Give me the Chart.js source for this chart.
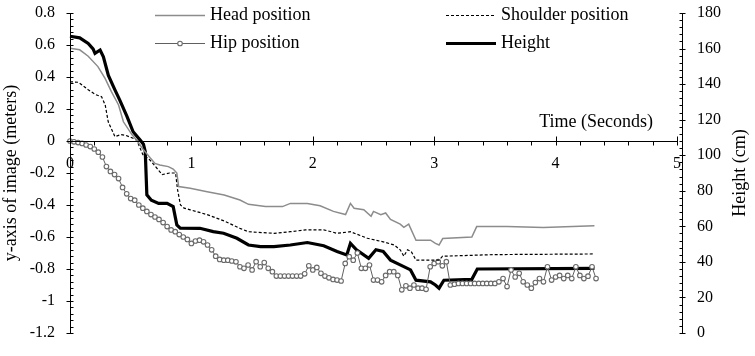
<!DOCTYPE html>
<html>
<head>
<meta charset="utf-8">
<script src="https://cdn.jsdelivr.net/npm/chart.js@4.4.0/dist/chart.umd.min.js"></script>
<style>
  body { margin: 0; background: #fff; }
</style>
</head>
<body>
<canvas id="chart" width="755" height="356"></canvas>
<script>
// Hip samples (one per video frame)
const frameTime = [
  0, 0.033, 0.067, 0.1, 0.133, 0.167, 0.2, 0.233, 0.267, 0.3,
  0.333, 0.367, 0.4, 0.433, 0.467, 0.5, 0.533, 0.567, 0.6, 0.633,
  0.667, 0.7, 0.733, 0.767, 0.8, 0.833, 0.867, 0.9, 0.933, 0.967,
  1, 1.033, 1.067, 1.1, 1.133, 1.167, 1.2, 1.233, 1.267, 1.3,
  1.333, 1.367, 1.4, 1.433, 1.467, 1.5, 1.533, 1.567, 1.6, 1.633,
  1.667, 1.7, 1.733, 1.767, 1.8, 1.833, 1.867, 1.9, 1.933, 1.967,
  2, 2.033, 2.067, 2.1, 2.133, 2.167, 2.2, 2.233, 2.267, 2.3,
  2.333, 2.367, 2.4, 2.433, 2.467, 2.5, 2.533, 2.567, 2.6, 2.633,
  2.667, 2.7, 2.733, 2.767, 2.8, 2.833, 2.867, 2.9, 2.933, 2.967,
  3, 3.033, 3.067, 3.1, 3.133, 3.167, 3.2, 3.233, 3.267, 3.3,
  3.333, 3.367, 3.4, 3.433, 3.467, 3.5, 3.533, 3.567, 3.6, 3.633,
  3.667, 3.7, 3.733, 3.767, 3.8, 3.833, 3.867, 3.9, 3.933, 3.967,
  4, 4.033, 4.067, 4.1, 4.133, 4.167, 4.2, 4.233, 4.267, 4.3,
  4.333
];
const hipPos = [
  0, -0.005, -0.01, -0.015, -0.025, -0.035, -0.05, -0.07, -0.1, -0.16,
  -0.19, -0.21, -0.235, -0.29, -0.33, -0.36, -0.37, -0.4, -0.42, -0.44,
  -0.46, -0.475, -0.49, -0.51, -0.535, -0.556, -0.567, -0.585, -0.6, -0.615,
  -0.64, -0.625, -0.62, -0.63, -0.65, -0.68, -0.72, -0.74, -0.745, -0.745,
  -0.75, -0.755, -0.786, -0.796, -0.775, -0.806, -0.754, -0.786, -0.76, -0.796,
  -0.817, -0.844, -0.844, -0.844, -0.844, -0.844, -0.844, -0.844, -0.83, -0.78,
  -0.806, -0.79, -0.827, -0.844, -0.855, -0.865, -0.869, -0.875, -0.765, -0.723,
  -0.745, -0.7, -0.796, -0.796, -0.775, -0.869, -0.869, -0.88, -0.84, -0.817,
  -0.817, -0.84, -0.93, -0.905, -0.92, -0.9, -0.92, -0.92, -0.927, -0.786,
  -0.765, -0.754, -0.78, -0.754, -0.9, -0.895, -0.89, -0.89, -0.89, -0.89,
  -0.89, -0.89, -0.89, -0.89, -0.89, -0.89, -0.88, -0.86, -0.91, -0.806,
  -0.85, -0.827, -0.88, -0.9, -0.92, -0.885, -0.86, -0.88, -0.786, -0.869,
  -0.85, -0.84, -0.86, -0.84, -0.86, -0.786, -0.84, -0.86, -0.845, -0.786,
  -0.86
];

// Head position (m)
const headTime = [0, 0.08, 0.15, 0.23, 0.29, 0.34, 0.4, 0.44, 0.51, 0.55, 0.6, 0.66, 0.7, 0.74, 0.81, 0.85, 0.88, 0.895, 0.99, 1.13, 1.27, 1.4, 1.47, 1.61, 1.75, 1.815, 1.955, 2.06, 2.17, 2.27, 2.31, 2.34, 2.42, 2.48, 2.5, 2.56, 2.6, 2.64, 2.72, 2.75, 2.79, 2.85, 2.97, 3.01, 3.04, 3.07, 3.31, 3.35, 3.6, 3.9, 4.32];
const headPos = [0.58, 0.57, 0.53, 0.465, 0.39, 0.31, 0.225, 0.12, 0.04, 0.005, -0.05, -0.105, -0.14, -0.15, -0.16, -0.175, -0.2, -0.285, -0.296, -0.317, -0.337, -0.369, -0.396, -0.41, -0.41, -0.39, -0.39, -0.405, -0.44, -0.46, -0.39, -0.42, -0.43, -0.47, -0.44, -0.46, -0.45, -0.49, -0.52, -0.54, -0.52, -0.62, -0.62, -0.64, -0.65, -0.61, -0.6, -0.535, -0.535, -0.54, -0.53];

// Shoulder position (m)
const shoulderTime = [0, 0.07, 0.15, 0.21, 0.26, 0.29, 0.315, 0.37, 0.42, 0.46, 0.51, 0.55, 0.6, 0.66, 0.76, 0.82, 0.87, 0.885, 0.91, 0.94, 0.99, 1.13, 1.27, 1.4, 1.47, 1.68, 1.815, 1.94, 2.09, 2.2, 2.31, 2.45, 2.52, 2.58, 2.67, 2.72, 2.75, 2.78, 2.81, 2.85, 3.04, 3.07, 3.5, 4.32];
const shoulderPos = [0.37, 0.367, 0.32, 0.29, 0.277, 0.225, 0.12, 0.027, 0.04, 0.035, 0.02, 0.005, -0.085, -0.12, -0.21, -0.2, -0.2, -0.3, -0.4, -0.42, -0.43, -0.46, -0.5, -0.546, -0.567, -0.577, -0.567, -0.556, -0.555, -0.577, -0.567, -0.608, -0.62, -0.63, -0.65, -0.68, -0.72, -0.68, -0.69, -0.744, -0.744, -0.72, -0.71, -0.706];

// Height (cm), right axis
const heightTime = [0, 0.08, 0.15, 0.19, 0.206, 0.248, 0.275, 0.316, 0.37, 0.41, 0.47, 0.52, 0.578, 0.605, 0.62, 0.633, 0.67, 0.73, 0.8, 0.85, 0.88, 0.908, 1.07, 1.18, 1.265, 1.375, 1.47, 1.57, 1.68, 1.815, 1.955, 2.09, 2.2, 2.28, 2.31, 2.36, 2.46, 2.52, 2.58, 2.64, 2.72, 2.805, 2.85, 2.97, 3.01, 3.04, 3.08, 3.31, 3.355, 4.32];
const heightCm = [166.9, 166, 162.9, 159.8, 157.3, 159.2, 155.4, 144.9, 136.8, 131, 121.7, 113.2, 108.5, 106.2, 102, 77.7, 74.7, 72.9, 72.9, 71.1, 60.8, 59, 58.9, 57, 56.1, 53.3, 49.5, 48.6, 48.6, 49.5, 50.9, 49.1, 45.9, 43.9, 50.4, 46.8, 42, 46.8, 45.9, 41, 38.3, 35.5, 29.7, 28.8, 27, 25.2, 29.7, 30.2, 36, 36.4];

const seriesLabels = ["Head position", "Shoulder position", "Hip position", "Height"];

const pairs = (xs, ys) => xs.map((t, i) => ({ x: t, y: ys[i] }));
const FONT = '"Liberation Serif", "Times New Roman", serif';

// fixed axis box sizes, no extra label padding in the layout
const fixWidth = (w) => (s) => {
    s.width = w;
    s.paddingTop = 0;
    s.paddingBottom = 0;
};

// axes drawn Excel-style: crossing majors, small minors
const axisDecor = {
    id: "axisDecor",
    afterDraw(chart) {
        const { ctx, chartArea: a, scales } = chart;
        const { x, y, y2 } = scales;
        ctx.save();
        ctx.strokeStyle = "#000";
        ctx.lineWidth = 1;
        const y0 = Math.round(y.getPixelForValue(0)) + 0.5;
        const xl = Math.round(a.left) + 0.5;
        const xr = Math.round(a.right) + 5.5;
        ctx.beginPath();
        ctx.moveTo(a.left, y0); ctx.lineTo(a.right + 1, y0);
        ctx.moveTo(xl, a.top); ctx.lineTo(xl, a.bottom);
        ctx.moveTo(xr, a.top); ctx.lineTo(xr, a.bottom);
        for (let i = 0; i <= 25; i++) {
            const px = Math.round(x.getPixelForValue(i * 0.2)) + 0.5;
            ctx.moveTo(px, i % 5 === 0 ? y0 - 5 : y0);
            ctx.lineTo(px, y0 + 4);
        }
        for (let i = 0; i <= 50; i++) {
            const py = Math.round(y.getPixelForValue(-1.2 + i * 0.04)) + 0.5;
            ctx.moveTo(i % 5 === 0 ? xl - 4 : xl, py);
            ctx.lineTo(xl + 3, py);
        }
        for (let i = 0; i <= 45; i++) {
            const py = Math.round(y2.getPixelForValue(i * 4)) + 0.5;
            ctx.moveTo(xr - 3, py);
            ctx.lineTo(i % 5 === 0 ? xr + 3 : xr, py);
        }
        ctx.stroke();

        // legend, two columns inside the plot
        const spots = [[155, 15], [446, 15], [155, 43], [446, 43]];
        ctx.font = "18px " + FONT;
        ctx.fillStyle = "#000";
        ctx.textBaseline = "alphabetic";
        ctx.textAlign = "left";
        chart.data.datasets.forEach((ds, i) => {
            const [lx, ly] = spots[i];
            ctx.beginPath();
            ctx.strokeStyle = ds.borderColor;
            ctx.lineWidth = ds.borderWidth;
            ctx.setLineDash(ds.borderDash || []);
            ctx.moveTo(lx, ly + 0.5);
            ctx.lineTo(lx + 50, ly + 0.5);
            ctx.stroke();
            ctx.setLineDash([]);
            if (ds.pointRadius) {
                ctx.beginPath();
                ctx.arc(lx + 25, ly + 0.5, ds.pointRadius, 0, Math.PI * 2);
                ctx.fillStyle = ds.pointBackgroundColor;
                ctx.fill();
                ctx.lineWidth = ds.pointBorderWidth;
                ctx.strokeStyle = ds.pointBorderColor;
                ctx.stroke();
            }
            ctx.fillStyle = "#000";
            ctx.fillText(ds.label, lx + 55, ly + 5);
        });

        // x title sits above the axis, right side
        ctx.textAlign = "right";
        ctx.fillText("Time (Seconds)", a.right - 24, y0 - 15);

        // right title reads bottom-to-top
        ctx.translate(740, (a.top + a.bottom) / 2);
        ctx.rotate(-Math.PI / 2);
        ctx.textAlign = "center";
        ctx.textBaseline = "middle";
        ctx.fillText("Height (cm)", 0, 0);
        ctx.restore();
    },
};

const ctx = document.getElementById("chart").getContext("2d");
new Chart(ctx, {
    type: "line",
    data: {
        datasets: [
            {
                label: seriesLabels[0],
                data: pairs(headTime, headPos),
                borderColor: "#8c8c8c",
                borderWidth: 1.5,
                pointRadius: 0,
                yAxisID: "y",
            },
            {
                label: seriesLabels[1],
                data: pairs(shoulderTime, shoulderPos),
                borderColor: "#000",
                borderWidth: 1.2,
                borderDash: [3, 2],
                pointRadius: 0,
                yAxisID: "y",
            },
            {
                label: seriesLabels[2],
                data: pairs(frameTime, hipPos),
                borderColor: "#606060",
                borderWidth: 1,
                pointRadius: 2.3,
                pointBorderWidth: 1.1,
                pointBorderColor: "#6a6a6a",
                pointBackgroundColor: "#fff",
                yAxisID: "y",
            },
            {
                label: seriesLabels[3],
                data: pairs(heightTime, heightCm),
                borderColor: "#000",
                borderWidth: 3.2,
                pointRadius: 0,
                yAxisID: "y2",
            },
        ],
    },
    options: {
        responsive: false,
        devicePixelRatio: 1,
        animation: false,
        clip: false,
        layout: { padding: { left: 0, right: 0, top: 13, bottom: 23 } },
        elements: { line: { tension: 0 } },
        plugins: { legend: { display: false }, tooltip: { enabled: false } },
        scales: {
            x: {
                type: "linear",
                min: 0,
                max: 5,
                position: { y: 0 },
                afterFit: (s) => { s.height = 0; },
                grid: { display: false, drawTicks: false },
                border: { display: false },
                ticks: {
                    stepSize: 1,
                    padding: 13,
                    color: "#000",
                    font: { family: FONT, size: 16 },
                    callback: (v) => (Number.isInteger(v) ? String(v) : ""),
                },
            },
            y: {
                position: "left",
                min: -1.2,
                max: 0.8,
                afterFit: fixWidth(70),
                grid: { display: false, drawTicks: false },
                border: { display: false },
                ticks: {
                    stepSize: 0.2,
                    padding: 15,
                    color: "#000",
                    font: { family: FONT, size: 16 },
                    callback: (v) => String(+v.toFixed(1)),
                },
                title: {
                    display: true,
                    text: "y-axis of image (meters)",
                    color: "#000",
                    padding: 0,
                    font: { family: FONT, size: 18 },
                },
            },
            y2: {
                position: "right",
                min: 0,
                max: 180,
                afterFit: fixWidth(78),
                grid: { display: false, drawTicks: false },
                border: { display: false },
                ticks: {
                    stepSize: 20,
                    padding: 20,
                    color: "#000",
                    font: { family: FONT, size: 16 },
                },
            },
        },
    },
    plugins: [axisDecor],
});
</script>
</body>
</html>
